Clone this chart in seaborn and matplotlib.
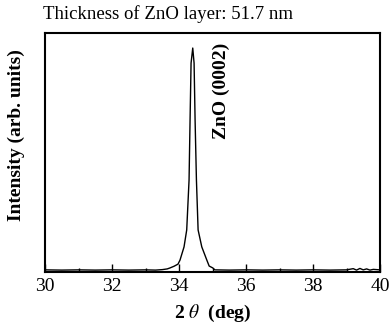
import matplotlib
matplotlib.use("Agg")
import matplotlib.pyplot as plt
import seaborn as sns
import pandas as pd
from matplotlib.ticker import MultipleLocator

# XRD scan (2theta in deg, intensity in arb. units)
two_theta = [30.0, 30.5, 31.0, 31.5, 32.0, 32.5, 33.0, 33.3, 33.5, 33.65,
             33.73, 33.85, 33.97, 34.03, 34.15, 34.23, 34.30, 34.33, 34.36,
             34.41, 34.45, 34.48, 34.52, 34.57, 34.68, 34.83, 34.90, 35.01,
             35.07, 35.5, 36.0, 36.5, 37.0, 37.5, 38.0, 38.5, 39.0, 39.2,
             39.3, 39.4, 39.5, 39.6, 39.7, 39.8, 40.0]
intensity = [0.9, 0.8, 0.9, 0.8, 0.9, 0.8, 0.9, 0.8, 1.0, 1.3,
             1.7, 2.4, 3.3, 5.0, 10.5, 17.6, 38.5, 63.6, 87.4,
             93.7, 87.4, 63.6, 38.5, 17.6, 10.5, 5.0, 2.5, 1.7,
             0.9, 0.8, 0.9, 0.8, 0.9, 0.8, 0.9, 0.8, 0.9, 1.4,
             0.8, 1.5, 0.9, 1.3, 0.8, 1.1, 0.9]

title_text = "Thickness of ZnO layer: 51.7 nm"
peak_label = "ZnO (0002)"

df = pd.DataFrame({"two_theta": two_theta, "intensity": intensity})

sns.set_theme(style="ticks")
plt.rcParams['font.family'] = ['Liberation Serif', 'DejaVu Serif']
plt.rcParams['mathtext.fontset'] = 'stix'
plt.rcParams['text.color'] = 'black'
plt.rcParams['axes.labelcolor'] = 'black'
plt.rcParams['xtick.color'] = 'black'
plt.rcParams['ytick.color'] = 'black'

fig = plt.figure(figsize=(3.91, 3.26), dpi=100)
ax = fig.add_axes([0.1151, 0.1656, 0.8568, 0.7332])

sns.lineplot(data=df, x="two_theta", y="intensity", color="black",
             linewidth=1.0, ax=ax)

ax.set_xlim(30, 40)
ax.set_ylim(0, 100)
ax.xaxis.set_major_locator(MultipleLocator(2))
ax.xaxis.set_minor_locator(MultipleLocator(1))
ax.set_yticks([])
ax.tick_params(axis='x', which='major', direction='in', length=6, width=1,
               labelsize=14, pad=4)
ax.tick_params(axis='x', which='minor', direction='in', length=3, width=1)
for s in ax.spines.values():
    s.set_linewidth(1.5)
    s.set_color('black')

ax.set_xlabel(r"2 $\theta$  (deg)", fontsize=14, fontweight='bold', labelpad=6)
ax.set_ylabel("Intensity (arb. units)", fontsize=14, fontweight='bold')
ax.yaxis.set_label_coords(-0.06, 0.573)

ax.text(35.25, 75.7, peak_label, rotation=90, ha='center', va='center',
        fontsize=14, fontweight='bold')
fig.text(0.11, 0.957, title_text, ha='left', va='center', fontsize=13.5)

fig.savefig("out.png", dpi=100)
